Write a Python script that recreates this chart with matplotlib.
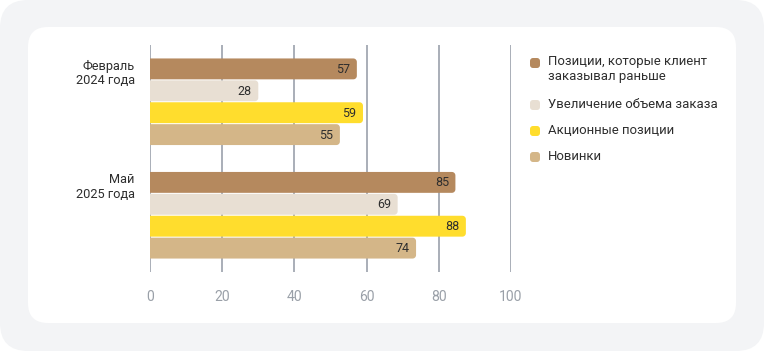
import matplotlib
matplotlib.use("Agg")
import matplotlib.pyplot as plt
from matplotlib.patches import FancyBboxPatch, PathPatch
from matplotlib.path import Path
import numpy as np

FONT = ['Roboto', 'DejaVu Sans']
plt.rcParams['font.family'] = FONT

groups = ["Февраль\n2024 года", "Май\n2025 года"]
series = ["Позиции, которые клиент\nзаказывал раньше",
          "Увеличение объема заказа",
          "Акционные позиции",
          "Новинки"]
# bar lengths as drawn in the picture
bar_values = [
    [57.3, 84.6],
    [30.0, 68.6],
    [59.0, 87.5],
    [52.6, 73.7],
]
# value labels as printed on the bars
value_labels = [
    ["57", "85"],
    ["28", "69"],
    ["59", "88"],
    ["55", "74"],
]
colors = ["#B5895E", "#E8DFD3", "#FFDD2D", "#D4B688"]
xticks = [0, 20, 40, 60, 80, 100]

W, H = 764, 351
fig = plt.figure(figsize=(W / 100, H / 100), dpi=100)
fig.patch.set_facecolor("white")
renderer = fig.canvas.get_renderer()


def fit_size(s, target_px, base=10.0):
    t = fig.text(0, 0, s, fontsize=base)
    w = t.get_window_extent(renderer).width
    t.remove()
    return base * target_px / w


fs_leg = fit_size("Акционные позиции", 126)
fs_grp = fit_size("2024 года", 59)
fs_val = fit_size("57", 14)
fs_tick = fit_size("100", 23.5)

# background panels
fig.patches.append(FancyBboxPatch((0, 0), 1, 1, transform=fig.transFigure,
                                  boxstyle=f"round,pad=0,rounding_size={28/W}",
                                  mutation_aspect=W / H, fc="#F3F4F6", ec="none", zorder=-10))
x0, y0, x1, y1 = 28, 27, 736, 323
fig.patches.append(FancyBboxPatch((x0 / W, 1 - y1 / H), (x1 - x0) / W, (y1 - y0) / H,
                                  transform=fig.transFigure,
                                  boxstyle=f"round,pad=0,rounding_size={20/W}",
                                  mutation_aspect=W / H, fc="white", ec="none", zorder=-9))

ax_l, ax_r, ax_t, ax_b = 150, 511, 45, 272
ax = fig.add_axes([ax_l / W, 1 - ax_b / H, (ax_r - ax_l) / W, (ax_b - ax_t) / H])
ax.set_facecolor("none")
ax.set_xlim(0, 100)
ax.set_ylim(1.5, -0.5)

pitch = 0.193
bh = 0.184
n = len(series)
px_x = 100 / (ax_r - ax_l)
px_y = 2.0 / (ax_b - ax_t)
rx = 3.5 * px_x
ry = 3.5 * px_y


def right_rounded(xb, yb, wb, hb):
    t1 = np.linspace(-np.pi / 2, 0, 8)
    t2 = np.linspace(0, np.pi / 2, 8)
    cx = xb + wb - rx
    pts = [(xb, yb)]
    pts += [(cx + rx * np.cos(t), yb + ry + ry * np.sin(t)) for t in t1]
    pts += [(cx + rx * np.cos(t), yb + hb - ry + ry * np.sin(t)) for t in t2]
    pts += [(xb, yb + hb), (xb, yb)]
    codes = [Path.MOVETO] + [Path.LINETO] * (len(pts) - 2) + [Path.CLOSEPOLY]
    return Path(pts, codes)


for si in range(n):
    offs = (si - (n - 1) / 2) * pitch
    ypos = np.arange(len(groups)) + offs
    bars = ax.barh(ypos, bar_values[si], height=bh, color=colors[si], zorder=3)
    for b, lab in zip(bars, value_labels[si]):
        b.set_visible(False)
        xb, yb, wb, hb = b.get_x(), b.get_y(), b.get_width(), b.get_height()
        ax.add_patch(PathPatch(right_rounded(xb, yb, wb, hb), fc=colors[si],
                               ec="none", zorder=3))
        ax.text(xb + wb - 6.5 * px_x, yb + hb / 2 + 0.5 * px_y, lab, ha="right", va="center",
                fontsize=fs_val, color="#2E2E2E", zorder=4)

ax.set_xticks(xticks)
ax.set_xticklabels([str(t) for t in xticks])
first = np.arange(len(groups)) - (n - 1) / 2 * pitch + 0.02
ax.set_yticks(first)
ax.set_yticklabels(groups, linespacing=1.15)
ax.tick_params(axis="y", length=0, pad=11, labelsize=fs_grp, labelcolor="#2E2E2E")
ax.tick_params(axis="x", length=0, pad=13, labelsize=fs_tick, labelcolor="#9AA0A8")
for lbl in ax.get_yticklabels():
    lbl.set_horizontalalignment("right")
    lbl.set_multialignment("right")
ax.grid(axis="x", color="#A9AEB8", linewidth=1.4, zorder=0)
ax.grid(axis="y", visible=False)
for s in ax.spines.values():
    s.set_visible(False)

# legend
leg_y = [63, 105, 131, 157]
for lab, col, yy in zip(series, colors, leg_y):
    ms = 10
    fig.patches.append(FancyBboxPatch(((535 - ms / 2) / W, 1 - (yy + ms / 2) / H), ms / W, ms / H,
                                      transform=fig.transFigure,
                                      boxstyle=f"round,pad=0,rounding_size={3/W}",
                                      mutation_aspect=W / H, fc=col, ec="none"))
    fig.text(548 / W, 1 - (yy - 7.5) / H, lab, ha="left", va="top", fontsize=fs_leg,
             color="#2E2E2E", linespacing=1.15)

fig.savefig("out.png", dpi=100)
